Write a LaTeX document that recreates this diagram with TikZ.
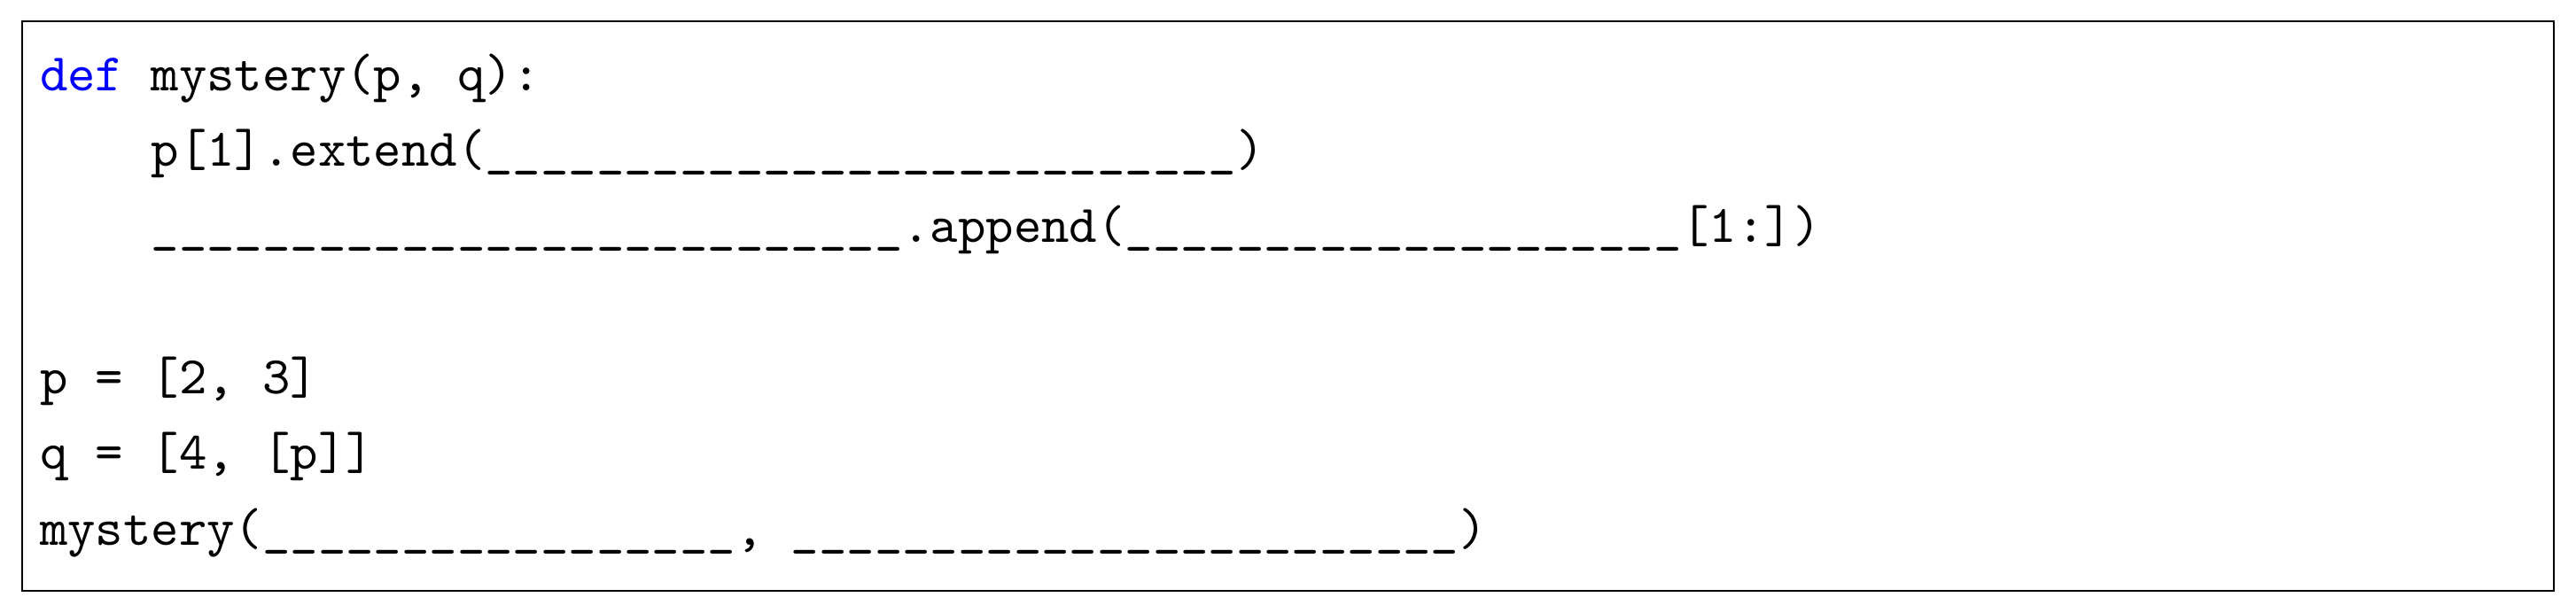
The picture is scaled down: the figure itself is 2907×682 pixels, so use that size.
\documentclass[tikz,border=0pt]{standalone}
\definecolor{kwblue}{RGB}{0,0,255}
\newcommand\ublanks[1]{\foreach\ui in {1,...,#1}{\_}}
\begin{document}
\begin{tikzpicture}[x=0.16722pt,y=-0.16722pt,
  codeline/.style={anchor=base west, inner sep=0pt, font=\fontsize{10}{12}\selectfont\ttfamily},
  frame/.style={draw=black, line width=0.4pt}]
\useasboundingbox (0,0) rectangle (2907,682);
\draw[frame] (25,24) rectangle (2882,667);
\node[codeline] (l1) at (44,102) {\textcolor{kwblue}{def} mystery(p, q):};
\node[codeline] (l2) at (169.6,187.5) {p[1].extend(\ublanks{27})};
\node[codeline] (l3) at (169.6,273) {\ublanks{27}.append(\ublanks{20}[1:])};
\node[codeline] (l5) at (44,444) {p = [2, 3]};
\node[codeline] (l6) at (44,529.5) {q = [4, [p]]};
\node[codeline] (l7) at (44,615) {mystery(\ublanks{17}, \ublanks{24})};
\end{tikzpicture}
\end{document}
